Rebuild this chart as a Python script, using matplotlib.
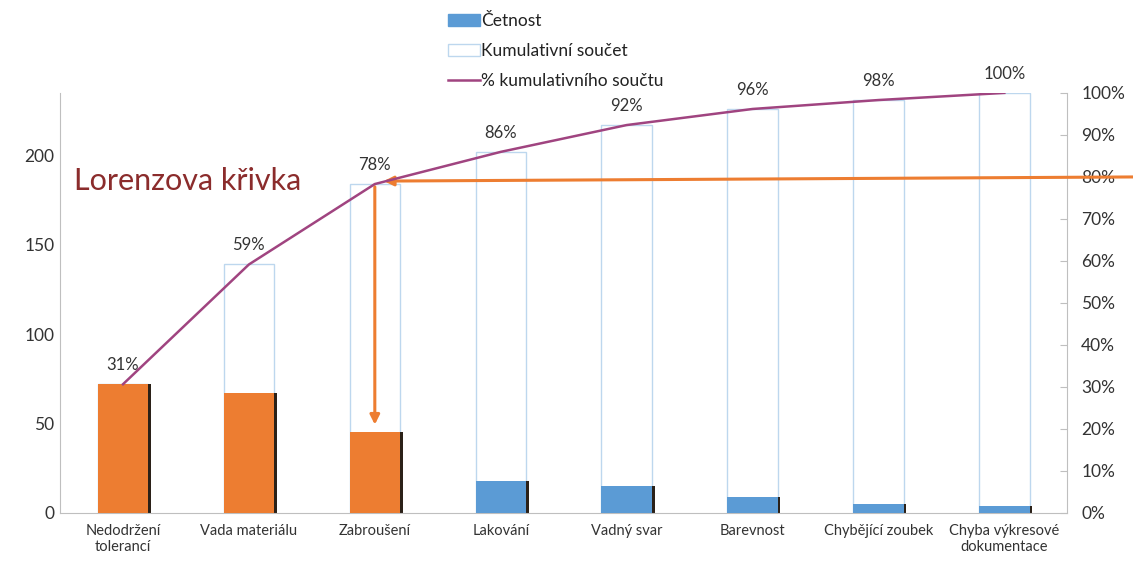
import matplotlib.pyplot as plt
import matplotlib.ticker as mticker
from matplotlib.patches import Patch
from matplotlib.lines import Line2D

plt.rcParams['font.family'] = ['Lato', 'DejaVu Sans']

categories = ["Nedodržení\ntolerancí", "Vada materiálu", "Zabroušení", "Lakování",
              "Vadný svar", "Barevnost", "Chybějící zoubek", "Chyba výkresové\ndokumentace"]
counts = [72, 67, 45, 18, 15, 9, 5, 4]
cumulative = [72, 139, 184, 202, 217, 226, 231, 235]
percent_labels = ["31%", "59%", "78%", "86%", "92%", "96%", "98%", "100%"]
highlight = [True, True, True, False, False, False, False, False]

orange = "#ED7D31"
blue = "#5B9BD5"
cum_edge = "#BDD7EE"
line_col = "#A04480"
axis_col = "#BFBFBF"
text_col = "#333333"

total = cumulative[-1]
share = [c / total for c in cumulative]
x = list(range(len(categories)))

fig = plt.figure(figsize=(11.33, 5.63), dpi=100)
ax = fig.add_axes([0.053, 0.089, 0.889, 0.746])
ax2 = ax.twinx()

# cumulative bars (outline only) behind frequency bars
ax.bar(x, cumulative, width=0.4, facecolor="white", edgecolor=cum_edge, linewidth=1.0, zorder=1)
# dark shadow on right edge of frequency bars
ax.bar([i + 0.022 for i in x], counts, width=0.4, color="#2b2118", zorder=2)
bar_colors = [orange if h else blue for h in highlight]
ax.bar(x, counts, width=0.4, color=bar_colors, zorder=3)

ax.set_xlim(-0.5, len(categories) - 0.5)
ax.set_ylim(0, total)
ax.set_yticks([0, 50, 100, 150, 200])
ax.set_xticks(x)
ax.set_xticklabels(categories, fontsize=10.5, color=text_col)
ax.tick_params(axis="y", length=0, labelsize=12.5, labelcolor=text_col, pad=4)
ax.tick_params(axis="x", length=0, pad=8)
for side in ["top", "right"]:
    ax.spines[side].set_visible(False)
for side in ["left", "bottom"]:
    ax.spines[side].set_color(axis_col)

ax2.set_ylim(0, 1)
ax2.set_yticks([i / 10 for i in range(11)])
ax2.yaxis.set_major_formatter(mticker.PercentFormatter(1.0, decimals=0))
ax2.tick_params(axis="y", direction="in", length=5, color=axis_col,
                labelsize=12.5, labelcolor=text_col, pad=10)
for side in ["top", "left", "bottom"]:
    ax2.spines[side].set_visible(False)
ax2.spines["right"].set_color(axis_col)

ax2.plot(x, share, color=line_col, linewidth=1.8, zorder=5)
for xi, s, lab in zip(x, share, percent_labels):
    ax2.annotate(lab, (xi, s), xytext=(0, 8), textcoords="offset points",
                 ha="center", va="bottom", fontsize=12, color=text_col)

# Pareto arrows at 80 %
ax2.annotate("", xy=(2.05, 0.79), xytext=(8.1, 0.80), annotation_clip=False,
             arrowprops=dict(arrowstyle="-|>", color=orange, lw=2.2, mutation_scale=14))
ax2.annotate("", xy=(2.0, counts[2] / total + 0.012), xytext=(2.0, share[2]),
             arrowprops=dict(arrowstyle="-|>", color=orange, lw=2.2, mutation_scale=14))

ax.text(0.014, 0.79, "Lorenzova křivka", transform=ax.transAxes, fontsize=22,
        color="#8B2C2C", ha="left", va="center")

handles = [Patch(facecolor=blue, edgecolor=blue),
           Patch(facecolor="white", edgecolor=cum_edge),
           Line2D([0], [0], color=line_col, lw=1.8)]
labels = ["Četnost", "Kumulativní součet", "% kumulativního součtu"]
fig.legend(handles, labels, loc="upper left", bbox_to_anchor=(0.382, 1.004), frameon=False,
           fontsize=12.5, handlelength=1.8, handletextpad=0.1, labelspacing=0.8,
           labelcolor="#222222")

plt.savefig("out.png", dpi=100)
